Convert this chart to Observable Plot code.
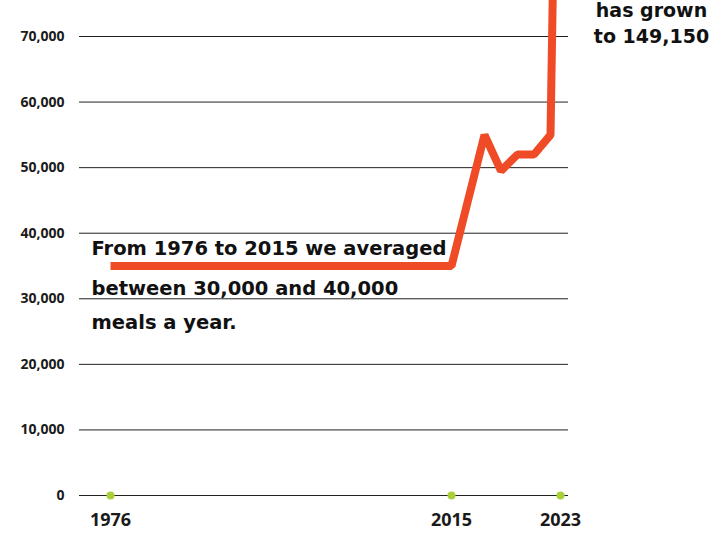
<!DOCTYPE html>
<html><head><meta charset="utf-8">
<script src="https://cdn.jsdelivr.net/npm/d3@7"></script>
<script src="https://cdn.jsdelivr.net/npm/@observablehq/plot@0.6"></script>
<style>body{margin:0;background:#fff;}</style>
</head><body><div id="chart"></div>
<script>
// data
const years = [1976, 2015, 2017, 2018, 2019, 2020, 2021, 2023];
const meals = [35000, 35000, 55000, 49500, 52000, 52000, 55000, 149150];
const xTicks = [1976, 2015, 2023];
const yTicks = [0, 10000, 20000, 30000, 40000, 50000, 60000, 70000];
const noteLeft = ["From 1976 to 2015 we averaged", "between 30,000 and 40,000", "meals a year."];
const noteRight = ["has grown", "to 149,150"];

const rows = years.map((y, i) => ({year: y, meals: meals[i]}));
const font = "'Open Sans', sans-serif";
const noteFont = "'DejaVu Sans', sans-serif";
const lineColor = "#EF4B26";

const plot = Plot.plot({
  width: 727,
  height: 533,
  marginLeft: 79,
  marginRight: 159,
  marginTop: 36,
  marginBottom: 38,
  style: {fontFamily: font, background: "#fff", overflow: "visible"},
  x: {type: "linear", domain: [1976, 2015, 2021, 2023], range: [110, 451, 550, 560]},
  y: {domain: [0, 70000]},
  marks: [
    Plot.gridY(yTicks, {stroke: "#222", strokeOpacity: 1, strokeWidth: 1}),
    Plot.axisY(yTicks, {tickSize: 0, tickPadding: 15, tickFormat: d3.format(","), fontSize: 14, fontWeight: 700, fill: "#1a1a1a", label: null}),
    Plot.axisX(xTicks, {tickSize: 0, tickPadding: 18, tickFormat: d => String(d), fontSize: 18, fontWeight: 700, fill: "#1a1a1a", label: null}),
    Plot.line(rows, {x: "year", y: "meals", stroke: lineColor, strokeWidth: 8, strokeLinejoin: "miter", strokeLinecap: "butt"}),
    Plot.dot(xTicks, {x: d => d, y: 0, r: 4, fill: "#A9CF3A", stroke: null}),
    ...noteLeft.map((t, i) => Plot.text([t], {frameAnchor: "top-left", text: d => d, textAnchor: "start", lineAnchor: "middle", dx: 12, dy: [212, 252, 286][i], fontSize: 19.5, fontWeight: 700, fill: "#111", fontFamily: noteFont})),
    ...noteRight.map((t, i) => Plot.text([t], {frameAnchor: "top-right", text: d => d, textAnchor: "middle", lineAnchor: "middle", dx: 83, dy: [-26, 0][i], fontSize: 19, fontWeight: 700, fill: "#111", fontFamily: noteFont}))
  ]
});
document.getElementById("chart").appendChild(plot);
</script>
</body></html>
